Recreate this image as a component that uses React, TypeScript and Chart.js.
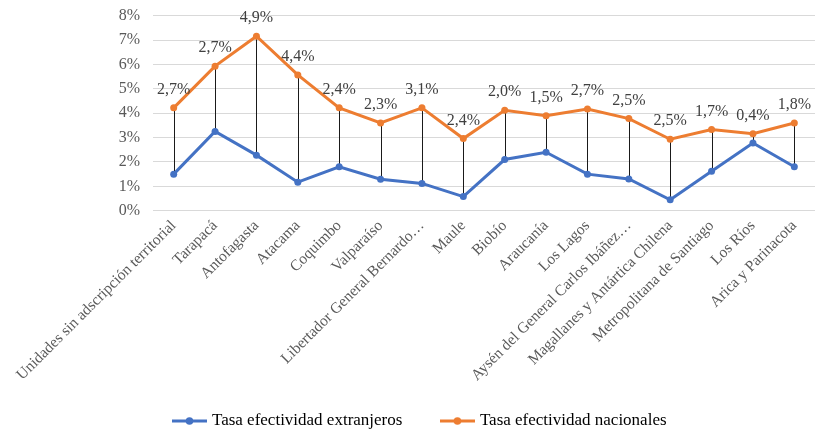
import React, { useEffect, useRef } from "react";
import { Chart, registerables } from "chart.js";

Chart.register(...registerables);

// Regions (long names shortened with an ellipsis as on the axis)
const regiones: string[] = [
  "Unidades sin adscripción territorial",
  "Tarapacá",
  "Antofagasta",
  "Atacama",
  "Coquimbo",
  "Valparaíso",
  "Libertador General Bernardo…",
  "Maule",
  "Biobío",
  "Araucanía",
  "Los Lagos",
  "Aysén del General Carlos Ibáñez…",
  "Magallanes y Antártica Chilena",
  "Metropolitana de Santiago",
  "Los Ríos",
  "Arica y Parinacota",
];

// Rates in percent
const tasaExtranjeros: number[] = [1.5, 3.25, 2.28, 1.17, 1.8, 1.29, 1.12, 0.58, 2.1, 2.4, 1.5, 1.3, 0.45, 1.62, 2.78, 1.8];
const tasaNacionales: number[] = [4.22, 5.93, 7.16, 5.57, 4.22, 3.6, 4.22, 2.96, 4.12, 3.9, 4.17, 3.78, 2.93, 3.33, 3.16, 3.6];

const yMin = 0;
const yMax = 8;
const yStep = 1;

const AZUL = "#4472C4";
const NARANJA = "#ED7D31";
const SERIF = '"Liberation Serif", "Times New Roman", serif';

const brecha = (i: number) => Math.round((tasaNacionales[i] - tasaExtranjeros[i]) * 10) / 10;
const fmtPct = (v: number) => v.toFixed(1).replace(".", ",") + "%";

function iconoLeyenda(color: string): HTMLCanvasElement {
  const c = document.createElement("canvas");
  c.width = 35;
  c.height = 10;
  const ctx = c.getContext("2d")!;
  ctx.strokeStyle = color;
  ctx.lineWidth = 3;
  ctx.beginPath();
  ctx.moveTo(0, 5);
  ctx.lineTo(35, 5);
  ctx.stroke();
  ctx.fillStyle = color;
  ctx.beginPath();
  ctx.arc(17.5, 5, 3.8, 0, Math.PI * 2);
  ctx.fill();
  return c;
}

// Let the long rotated category labels run below the axis box without being cut
const etiquetasLargas = {
  id: "etiquetasLargas",
  afterLayout(chart: any) {
    chart.scales.x.bottom = chart.height;
  },
};

// Vertical high-low lines between the two series, drawn behind them
const lineasAltoBajo = {
  id: "lineasAltoBajo",
  beforeDatasetsDraw(chart: any) {
    const { ctx, scales } = chart;
    const x = scales.x;
    const y = scales.y;
    ctx.save();
    ctx.strokeStyle = "#1a1a1a";
    ctx.lineWidth = 1;
    regiones.forEach((_, i) => {
      const px = Math.round(x.getPixelForValue(i)) + 0.5;
      ctx.beginPath();
      ctx.moveTo(px, y.getPixelForValue(tasaNacionales[i]));
      ctx.lineTo(px, y.getPixelForValue(tasaExtranjeros[i]));
      ctx.stroke();
    });
    ctx.restore();
  },
};

// Gap labels above the national series
const etiquetasBrecha = {
  id: "etiquetasBrecha",
  afterDatasetsDraw(chart: any) {
    const { ctx, scales } = chart;
    ctx.save();
    ctx.font = `16px ${SERIF}`;
    ctx.fillStyle = "#404040";
    ctx.textAlign = "center";
    ctx.textBaseline = "middle";
    regiones.forEach((_, i) => {
      const px = scales.x.getPixelForValue(i);
      const py = scales.y.getPixelForValue(tasaNacionales[i]);
      ctx.fillText(fmtPct(brecha(i)), px, py - 18);
    });
    ctx.restore();
  },
};

export default function App() {
  const ref = useRef<HTMLCanvasElement | null>(null);

  useEffect(() => {
    if (!ref.current) return;
    const iconos = [iconoLeyenda(AZUL), iconoLeyenda(NARANJA)];
    const chart = new Chart(ref.current, {
      type: "line",
      data: {
        labels: regiones,
        datasets: [
          {
            label: "Tasa efectividad extranjeros",
            data: tasaExtranjeros,
            borderColor: AZUL,
            backgroundColor: AZUL,
            borderWidth: 3,
            pointRadius: 3.5,
            pointBorderWidth: 0,
            tension: 0,
          },
          {
            label: "Tasa efectividad nacionales",
            data: tasaNacionales,
            borderColor: NARANJA,
            backgroundColor: NARANJA,
            borderWidth: 3,
            pointRadius: 3.5,
            pointBorderWidth: 0,
            tension: 0,
          },
        ],
      },
      options: {
        responsive: false,
        animation: false,
        layout: { padding: { top: 15.7, bottom: -6.5, left: 23, right: 0 } },
        plugins: {
          tooltip: { enabled: false },
          legend: {
            position: "bottom",
            labels: {
              usePointStyle: true,
              pointStyleWidth: 28,
              padding: 41,
              color: "#404040",
              font: { family: SERIF, size: 17 },
              generateLabels: (c: any) =>
                c.data.datasets.map((ds: any, i: number) => ({
                  text: ds.label,
                  pointStyle: iconos[i],
                  fillStyle: ds.borderColor,
                  strokeStyle: ds.borderColor,
                  lineWidth: 0,
                  hidden: false,
                  datasetIndex: i,
                })),
            },
          },
        },
        scales: {
          x: {
            offset: true,
            grid: { display: false, drawTicks: false },
            border: { display: false },
            ticks: {
              autoSkip: false,
              minRotation: 45,
              maxRotation: 45,
              padding: 6,
              color: "#595959",
              font: { family: SERIF, size: 15.5 },
            },
            afterFit: (axis: any) => {
              axis.height = 160.8;
              axis.paddingLeft = 0;
              axis.paddingRight = 0;
            },
          },
          y: {
            min: yMin,
            max: yMax,
            grid: { color: "#d9d9d9", lineWidth: 1, drawTicks: false },
            border: { display: false },
            ticks: {
              stepSize: yStep,
              padding: 13,
              color: "#595959",
              font: { family: SERIF, size: 16 },
              callback: (v: any) => `${v}%`,
            },
            afterFit: (axis: any) => {
              axis.width = 130;
              axis.paddingTop = 0;
              axis.paddingBottom = 0;
            },
          },
        },
      },
      plugins: [etiquetasLargas, lineasAltoBajo, etiquetasBrecha],
    });
    return () => chart.destroy();
  }, []);

  return (
    <div style={{ position: "absolute", left: 0, top: 0, width: 819, height: 433, background: "#fff" }}>
      <canvas ref={ref} width={819} height={433} />
    </div>
  );
}
